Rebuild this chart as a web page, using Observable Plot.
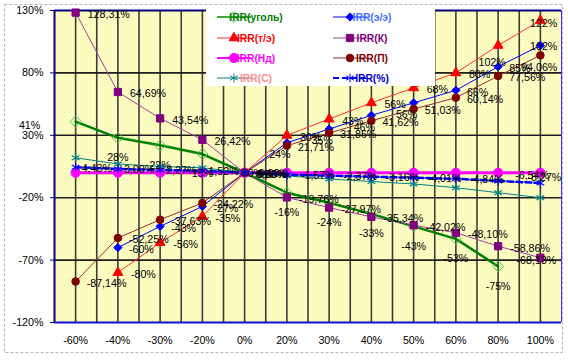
<!DOCTYPE html>
<html><head><meta charset="utf-8">
<script src="https://cdn.jsdelivr.net/npm/d3@7"></script>
<script src="https://cdn.jsdelivr.net/npm/@observablehq/plot@0.6"></script>
<style>body{margin:0;background:#fff}#chart{width:568px;height:360px}</style>
</head><body><div id="chart"></div>
<script>
// ---- data ----
const categories = ["-60%","-40%","-30%","-20%","0%","20%","30%","40%","50%","60%","80%","100%"];
const irrCoal = [41, 28, 22, 15, 0, -16, -24, -33, -43, -53, -75, null];
const irrEE   = [null, -60, -43, -27, 0, 24, 35, 46, 56, 66, 85, 102];
const irrTE   = [null, -80, -56, -35, 0, 30, 43, 56, 68, 80, 102, 122];
const irrK    = [128.31, 64.69, 43.54, 26.42, 0, -19.76, -27.97, -35.34, -42.02, -48.10, -58.86, -68.13];
const irrNd   = [0, 0, 0, 0, 0, 0, 0, 0, 0, 0, 0, 0];
const irrP    = [-87.14, -52.25, -37.63, -24.22, 0, 21.71, 31.86, 41.62, 51.03, 60.14, 77.56, 94.06];
const irrC    = [12, 7, 5, 4, 0, -2.5, -5, -7, -9, -12, -16, -20];
const irrPct  = [4.43, 3.00, 2.27, 1.52, 0, -1.57, -2.37, -3.16, -4.01, -4.84, -6.54, -8.27];
const yTicks  = [-120, -70, -20, 30, 80, 130];
const seriesNames = ["IRR(уголь)","IRR(э/э)","IRR(т/э)","IRR(К)","IRR(Нд)","IRR(П)","IRR(С)","IRR(%)"];

// ---- styles ----
const series = [
  {key:"coal", name:seriesNames[0], values:irrCoal, line:"#008000", width:2.5, symbol:"diamond2", r:5, fill:"none", mstroke:"#44cc44", text:"#008000", digits:0},
  {key:"ee",   name:seriesNames[1], values:irrEE,   line:"#0000ff", width:1,   symbol:"diamond2", r:3.7, fill:"#0000ff", mstroke:"#0000ff", text:"#3f6fff", digits:0},
  {key:"te",   name:seriesNames[2], values:irrTE,   line:"#ff3030", width:1,   symbol:"triangle2", r:4.7, fill:"#ff0000", mstroke:"#ff0000", text:"#ff0000", digits:0},
  {key:"k",    name:seriesNames[3], values:irrK,    line:"#a040a0", width:1,   symbol:"square", r:4.1, fill:"#800080", mstroke:"#800080", text:"#800080", digits:2},
  {key:"nd",   name:seriesNames[4], values:irrNd,   line:"#ff00ff", width:3,   symbol:"circle", r:4.6, fill:"#ff00ff", mstroke:"#ff00ff", text:"#ff00ff", digits:2},
  {key:"p",    name:seriesNames[5], values:irrP,    line:"#903030", width:1,   symbol:"circle", r:3.8, fill:"#800000", mstroke:"#800000", text:"#800000", digits:2},
  {key:"c",    name:seriesNames[6], values:irrC,    line:"#008080", width:1,   symbol:"asterisk", r:4.2, fill:"none", mstroke:"#008080", text:"#ff8f8f", digits:2},
  {key:"pct",  name:seriesNames[7], values:irrPct,  line:"#0000ff", width:2.5, dash:"6,3", symbol:"asterisk", r:4.2, fill:"none", mstroke:"#0000ff", text:"#0000cc", digits:2}
];

const rows = [];
series.forEach(s => s.values.forEach((v, i) => { if (v != null) rows.push({key:s.key, i, v}); }));

const fmt = (v, digits) => digits === 2 ? v.toFixed(2).replace(".", ",") + "%" : Math.round(v) + "%";
const last = categories.length - 1;
function place(s, i, v) {
  switch (s.key) {
    case "coal":
      if (v === 0) return null;
      if (i === 0) return {dx:-46, dy:4, a:"middle"};
      return {dx:0, dy:20, a:"middle"};
    case "ee":
      if (v === 0) return {dx:3, dy:1, a:"start"};
      if (i === last) return {dx:17, dy:1, a:"end"};
      if (v > 0 && v < 60) return {dx:-7, dy:12, a:"middle"};
      return {dx:11, dy:2, a:"start"};
    case "te":
      if (i === last) return {dx:17, dy:3, a:"end"};
      if (i === last - 1) return {dx:-6, dy:17, a:"middle"};
      return {dx:13, dy:2, a:"start"};
    case "k":
      if (i === last) return {dx:16, dy:3, a:"end"};
      return {dx:12, dy:2, a:"start"};
    case "p":
      if (i === last) return {dx:17, dy:12, a:"end"};
      return {dx:11, dy:2, a:"start"};
    case "pct":
      if (i === last) return {dx:21, dy:-5, a:"end"};
      if (i === last - 1) return {dx:17, dy:-5, a:"start"};
      return {dx: v > 0 ? 6 : 14, dy:1, a:"start"};
    default: return null;
  }
}
const labels = [];
series.forEach(s => s.values.forEach((v, i) => {
  if (v == null) return;
  const p = place(s, i, v);
  if (p) labels.push({i, v, t: fmt(v, s.digits), ...p, g: `${p.dx}|${p.dy}|${p.a}`});
}));
const labelMarks = d3.groups(labels, d => d.g).map(([g, ds]) =>
  Plot.text(ds, {x:"i", y:"v", text:"t", dx:ds[0].dx, dy:ds[0].dy, textAnchor:ds[0].a, fill:"#000", fontSize:10.7}));

const plot = Plot.plot({
  width: 568, height: 360,
  marginLeft: 54, marginRight: 7, marginTop: 10, marginBottom: 38,
  style: {fontFamily: "'Liberation Sans', Arial, sans-serif", fontSize: "10.7px", background: "white", overflow: "visible"},
  x: {type: "linear", domain: [-0.5, categories.length - 0.5], label: null},
  y: {domain: [-120, 130], label: null},
  marks: [
    Plot.frame({fill: "url(#ylwdots)", stroke: null}),
    Plot.ruleX(d3.range(0, categories.length * 2 - 1).map(k => k / 2), {stroke: "#3c3c3c", strokeWidth: 1.6}),
    Plot.ruleY(yTicks.slice(1, -1), {stroke: "#1e1e1e", strokeWidth: 1.6}),
    Plot.ruleY([130], {stroke: "#000080", strokeWidth: 2}),
    Plot.ruleY([-120], {stroke: "#1010d0", strokeWidth: 2}),
    Plot.ruleX([categories.length - 0.5], {stroke: "#3030ff", strokeWidth: 1}),
    Plot.ruleX([-0.5], {stroke: "#000080", strokeWidth: 2}),
    Plot.axisY({ticks: yTicks, tickFormat: d => d + "%", tickSize: 4, tickPadding: 7, stroke: "#000080", fill: "#000", fontSize: 10.7, label: null}),
    Plot.axisX({ticks: d3.range(categories.length), tickFormat: i => categories[i], tickSize: 0, tickPadding: 14, fill: "#000", fontSize: 10.7, label: null}),
    ...series.map(s => Plot.line(rows.filter(d => d.key === s.key), {x: "i", y: "v", stroke: s.line, strokeWidth: s.width, strokeDasharray: s.dash})),
    ...series.map(s => Plot.dot(rows.filter(d => d.key === s.key), {x: "i", y: "v", symbol: s.symbol, r: s.r, fill: s.fill, stroke: s.mstroke, strokeWidth: s.symbol === "asterisk" ? 1.2 : 1})),
    ...labelMarks
  ]
});

const svg = d3.select(plot);
const defs = svg.insert("defs", ":first-child");
const pat = defs.append("pattern").attr("id", "ylwdots").attr("patternUnits", "userSpaceOnUse").attr("width", 4).attr("height", 4);
pat.append("rect").attr("width", 4).attr("height", 4).attr("fill", "#ffffc2");
pat.append("rect").attr("x", 0).attr("y", 0).attr("width", 1).attr("height", 1).attr("fill", "#e8e8b0");
pat.append("rect").attr("x", 2).attr("y", 2).attr("width", 1).attr("height", 1).attr("fill", "#e8e8b0");

// outer dashed chart border
svg.append("rect").attr("x", 4.5).attr("y", 4.5).attr("width", 558).attr("height", 348)
  .attr("fill", "none").attr("stroke", "#b4b4b4").attr("stroke-dasharray", "3,2");

// legend
const symMap = {diamond2: d3.symbolDiamond2, triangle2: d3.symbolTriangle2, square: d3.symbolSquare, circle: d3.symbolCircle, asterisk: d3.symbolAsterisk};
const lg = svg.append("g").attr("font-family", "'Liberation Sans', Arial, sans-serif").attr("font-size", "10.3px").attr("font-weight", "bold");
lg.append("rect").attr("x", 206).attr("y", 6).attr("width", 229).attr("height", 80).attr("fill", "#fff");
const rowY = [17, 38, 58, 78];
series.forEach((s, k) => {
  const x0 = k % 2 ? 333 : 217, y = rowY[Math.floor(k / 2)];
  lg.append("line").attr("x1", x0).attr("x2", x0 + 34).attr("y1", y).attr("y2", y)
    .attr("stroke", s.key === "coal" ? "#3aa83a" : s.line).attr("stroke-width", Math.min(s.width, 2)).attr("stroke-dasharray", s.dash || null);
  lg.append("path").attr("transform", `translate(${x0 + 17},${y})`)
    .attr("d", d3.symbol().type(symMap[s.symbol]).size(Math.PI * s.r * s.r)())
    .attr("fill", s.fill).attr("stroke", s.mstroke).attr("stroke-width", 1);
  lg.append("text").attr("x", x0 + 39).attr("y", y).attr("dy", "0.35em").attr("fill", s.text).text(s.name);
});

document.getElementById("chart").appendChild(plot);
</script>
</body></html>
